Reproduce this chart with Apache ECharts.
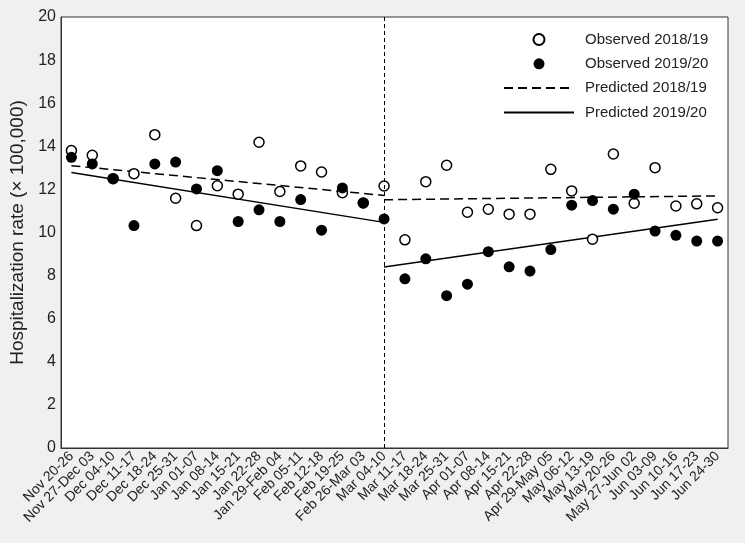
<!DOCTYPE html>
<html><head><meta charset="utf-8">
<script src="https://cdn.jsdelivr.net/npm/echarts@6/dist/echarts.min.js"></script>
<style>html,body{margin:0;padding:0;background:#f0f0f0;}#c{width:745px;height:543px;}</style>
</head><body><div id="c"></div>
<script>
var categories = ["Nov 20-26","Nov 27-Dec 03","Dec 04-10","Dec 11-17","Dec 18-24","Dec 25-31","Jan 01-07","Jan 08-14","Jan 15-21","Jan 22-28","Jan 29-Feb 04","Feb 05-11","Feb 12-18","Feb 19-25","Feb 26-Mar 03","Mar 04-10","Mar 11-17","Mar 18-24","Mar 25-31","Apr 01-07","Apr 08-14","Apr 15-21","Apr 22-28","Apr 29-May 05","May 06-12","May 13-19","May 20-26","May 27-Jun 02","Jun 03-09","Jun 10-16","Jun 17-23","Jun 24-30"];
var observed1819 = [13.80,13.58,12.50,12.73,14.54,11.59,10.32,12.17,11.78,14.19,11.90,13.09,12.81,11.85,11.37,12.16,9.66,12.36,13.12,10.94,11.08,10.85,10.85,12.93,11.93,9.69,13.64,11.36,13.01,11.23,11.33,11.15];
var observed1920 = [13.49,13.18,12.50,10.32,13.18,13.27,12.02,12.87,10.51,11.05,10.51,11.53,10.11,12.07,11.37,10.63,7.85,8.78,7.07,7.60,9.11,8.41,8.21,9.21,11.27,11.48,11.08,11.78,10.07,9.87,9.60,9.60];
// fitted segment endpoints (pre: first..Mar 04-10, post: Mar 04-10..last)
var pred1819Pre = [13.10,null,null,null,null,null,null,null,null,null,null,null,null,null,null,11.72];
var pred1819Post = [null,null,null,null,null,null,null,null,null,null,null,null,null,null,null,11.52,null,null,null,null,null,null,null,null,null,null,null,null,null,null,null,11.70];
var pred1920Pre = [12.78,null,null,null,null,null,null,null,null,null,null,null,null,null,null,10.47];
var pred1920Post = [null,null,null,null,null,null,null,null,null,null,null,null,null,null,null,8.40,null,null,null,null,null,null,null,null,null,null,null,null,null,null,null,10.62];
var breakCategory = "Mar 04-10";
var yTicks = {min:0,max:20,interval:2};

var FONT = "Liberation Sans, Arial, sans-serif";
var chart = echarts.init(document.getElementById('c'), null, {renderer:'canvas'});
function lineSeries(name, data, type){
  return {name:name, type:'line', data:data, connectNulls:true, symbol:'none', z:3,
    lineStyle:{color:'#000', width:1.5, type:type}, itemStyle:{color:'#000'}, silent:true};
}
var hiddenSym = {color:'rgba(0,0,0,0)', borderWidth:0, opacity:0};
chart.setOption({
  animation:false,
  backgroundColor:'#f0f0f0',
  textStyle:{fontFamily:FONT},
  grid:{left:61,right:17,top:17,bottom:95,show:true,backgroundColor:'#fff',borderColor:'#333',borderWidth:1},
  legend:{
    orient:'vertical', left:498, top:27, itemWidth:70, itemHeight:11, itemGap:9.3,
    textStyle:{fontSize:15,color:'#222',fontFamily:FONT,padding:[0,0,0,6]},
    data:[
      {name:'Observed 2018/19'},
      {name:'Observed 2019/20'},
      {name:'Predicted 2018/19', itemStyle:hiddenSym},
      {name:'Predicted 2019/20', itemStyle:hiddenSym}
    ]
  },
  xAxis:{type:'category', data:categories, boundaryGap:true,
    axisLine:{show:true,lineStyle:{color:'#333'}}, axisTick:{show:false},
    axisLabel:{rotate:45, fontSize:14, color:'#222', interval:0, margin:6, fontFamily:FONT},
    splitLine:{show:false}},
  yAxis:{type:'value', min:yTicks.min, max:yTicks.max, interval:yTicks.interval,
    name:'Hospitalization rate (× 100,000)', nameLocation:'middle', nameGap:30,
    nameTextStyle:{fontSize:19,color:'#222',fontFamily:FONT},
    axisLine:{show:true,lineStyle:{color:'#333'}}, axisTick:{show:false},
    axisLabel:{fontSize:16,color:'#222',margin:5,fontFamily:FONT}, splitLine:{show:false}},
  series:[
    lineSeries('Predicted 2018/19', pred1819Pre, [9,5]),
    lineSeries('Predicted 2018/19', pred1819Post, [9,5]),
    lineSeries('Predicted 2019/20', pred1920Pre, 'solid'),
    lineSeries('Predicted 2019/20', pred1920Post, 'solid'),
    {name:'Observed 2018/19', type:'scatter', data:observed1819, symbol:'circle', symbolSize:10, z:4,
      itemStyle:{color:'#fff', borderColor:'#000', borderWidth:1.5, opacity:1},
      markLine:{silent:true, symbol:'none', label:{show:false},
        lineStyle:{color:'#000', width:1, type:[4,3]},
        data:[{xAxis:breakCategory}]}},
    {name:'Observed 2019/20', type:'scatter', data:observed1920, symbol:'circle', symbolSize:11, z:5,
      itemStyle:{color:'#000', opacity:1}}
  ]
});
</script></body></html>
